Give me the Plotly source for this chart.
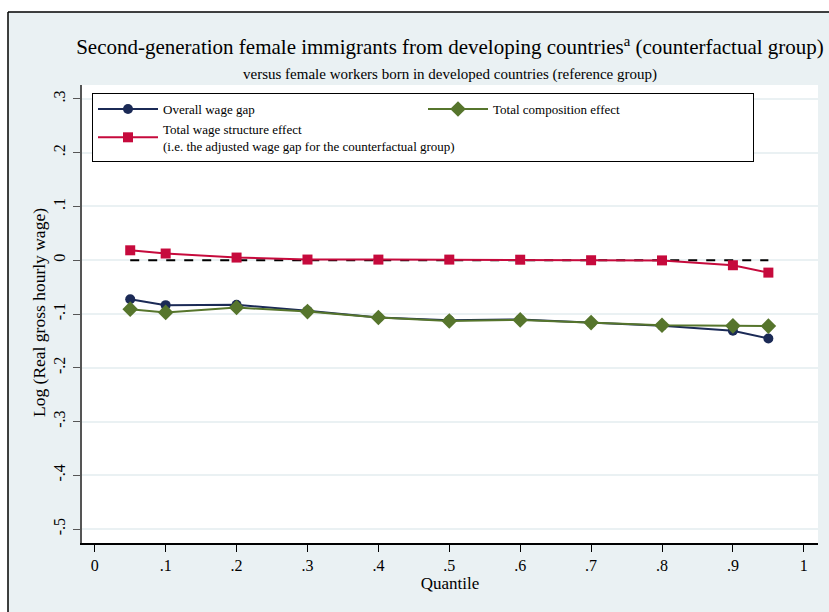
import plotly.graph_objects as go

quantiles = [0.05, 0.1, 0.2, 0.3, 0.4, 0.5, 0.6, 0.7, 0.8, 0.9, 0.95]
overall_gap = [-0.0725, -0.0835, -0.083, -0.094, -0.1065, -0.1115, -0.110, -0.116, -0.122, -0.131, -0.1455]
composition = [-0.091, -0.097, -0.088, -0.0955, -0.1065, -0.113, -0.111, -0.116, -0.121, -0.122, -0.1225]
wage_structure = [0.0185, 0.0125, 0.005, 0.0013, 0.0012, 0.0012, 0.001, 0.0, -0.0003, -0.0093, -0.023]
ref_x = [0.05, 0.95]
ref_y = [0.0, 0.0]

y_ticks = [-0.5, -0.4, -0.3, -0.2, -0.1, 0.0, 0.1, 0.2, 0.3]
y_ticktext = ["-.5", "-.4", "-.3", "-.2", "-.1", "0", ".1", ".2", ".3"]
x_ticks = [0, 0.1, 0.2, 0.3, 0.4, 0.5, 0.6, 0.7, 0.8, 0.9, 1.0]
x_ticktext = ["0", ".1", ".2", ".3", ".4", ".5", ".6", ".7", ".8", ".9", "1"]

NAVY = "#1b2a56"
GREEN = "#56752c"
RED = "#c60a3c"
BG = "#eaf1f3"
FONT = "Liberation Serif"

W, H = 829, 612
ML, MR, MT, MB = 82, 11, 85, 69
PW, PH = W - ML - MR, H - MT - MB


def px(x):
    return (x - ML) / PW


def py(y):
    return 1 - (y - MT) / PH


fig = go.Figure()
fig.add_trace(go.Scatter(x=ref_x, y=ref_y, mode="lines", showlegend=False,
                         line=dict(color="black", width=2, dash="dash"), hoverinfo="skip"))
fig.add_trace(go.Scatter(x=quantiles, y=overall_gap, mode="lines+markers", name="Overall wage gap",
                         line=dict(color=NAVY, width=2), marker=dict(symbol="circle", size=10, color=NAVY)))
fig.add_trace(go.Scatter(x=quantiles, y=composition, mode="lines+markers", name="Total composition effect",
                         line=dict(color=GREEN, width=2), marker=dict(symbol="diamond", size=12, color=GREEN)))
fig.add_trace(go.Scatter(x=quantiles, y=wage_structure, mode="lines+markers",
                         name="Total wage structure effect<br>(i.e. the adjusted wage gap for the counterfactual group)",
                         line=dict(color=RED, width=2), marker=dict(symbol="square", size=10, color=RED)))

shapes = [
    dict(type="rect", xref="paper", yref="paper", x0=px(-50), x1=px(W + 50), y0=py(12), y1=py(-50),
         fillcolor="white", line=dict(width=0), layer="below"),
    dict(type="rect", xref="paper", yref="paper", x0=px(-50), x1=px(8), y0=py(H + 50), y1=py(12),
         fillcolor="white", line=dict(width=0), layer="below"),
    dict(type="line", xref="paper", yref="paper", x0=px(8), x1=px(W + 50), y0=py(12), y1=py(12),
         line=dict(color="black", width=1.5)),
    dict(type="line", xref="paper", yref="paper", x0=px(8), x1=px(8), y0=py(12), y1=py(H + 50),
         line=dict(color="black", width=1.5)),
]

fig.update_layout(
    width=W, height=H,
    margin=dict(l=ML, r=MR, t=MT, b=MB, autoexpand=False),
    paper_bgcolor=BG, plot_bgcolor="white",
    font=dict(family=FONT, color="black"),
    title=dict(text="Second-generation female immigrants from developing countries<sup>a</sup> (counterfactual group)",
               x=px(450), xref="paper", xanchor="center", y=1 - 47 / H, yanchor="middle",
               font=dict(size=21, family=FONT)),
    annotations=[
        dict(text="versus female workers born in developed countries (reference group)",
             xref="paper", yref="paper", x=px(450), y=py(74), showarrow=False,
             xanchor="center", yanchor="middle", font=dict(size=15, family=FONT)),
        dict(text="Log (Real gross hourly wage)", textangle=-90,
             xref="paper", yref="paper", x=px(39), y=py(313), showarrow=False,
             xanchor="center", yanchor="middle", font=dict(size=17.5, family=FONT)),
    ],
    shapes=shapes,
    showlegend=True,
    legend=dict(orientation="h", x=px(92), y=py(93), xanchor="left", yanchor="top",
                bgcolor="white", bordercolor="black", borderwidth=1,
                entrywidth=255, entrywidthmode="pixels", itemwidth=60,
                font=dict(size=13, family=FONT), traceorder="normal", valign="middle"),
    xaxis=dict(range=[-0.018, 1.02], tickvals=x_ticks, ticktext=x_ticktext, showgrid=False, zeroline=False,
               showline=True, linecolor="black", linewidth=1.5, ticks="outside", ticklen=7, tickcolor="black",
               automargin=False,
               tickfont=dict(size=16), title=dict(text="Quantile", font=dict(size=17), standoff=2)),
    yaxis=dict(range=[-0.526, 0.326], tickvals=y_ticks, ticktext=y_ticktext, showgrid=True, gridcolor=BG,
               gridwidth=1.5, zeroline=False, showline=True, linecolor="#555555", linewidth=1.5,
               ticks="outside", ticklen=7, tickcolor="#555555", tickangle=-90, automargin=False,
               ticklabelstandoff=2, tickfont=dict(size=16)),
)

fig.write_html("out.html", post_script="document.body.style.margin='0px';",
               config={"displayModeBar": False})
